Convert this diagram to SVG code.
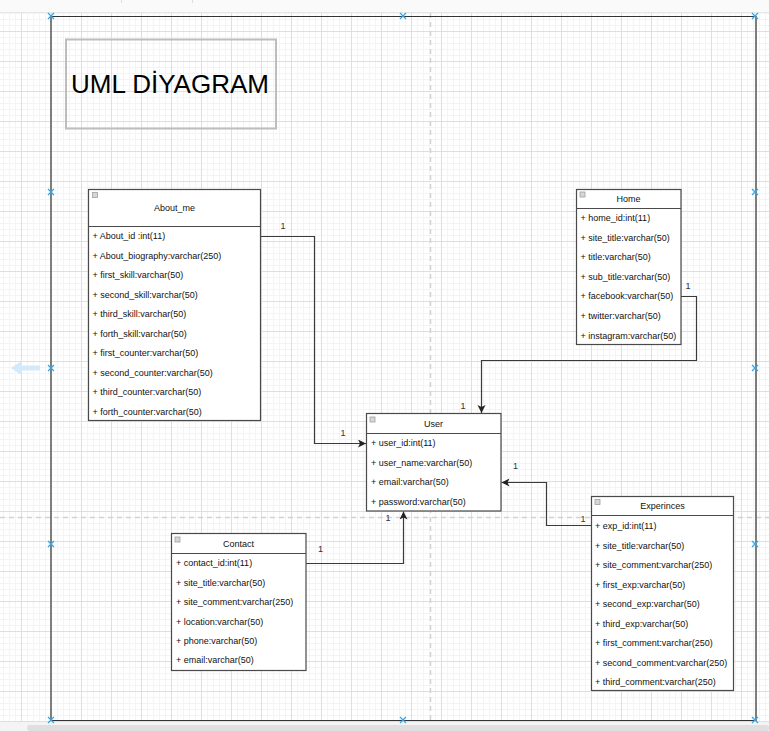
<svg xmlns="http://www.w3.org/2000/svg" width="769" height="731" viewBox="0 0 769 731">
<style>
.box{fill:#fff;stroke:#4a4a4a;stroke-width:1.2}
.div{stroke:#4a4a4a;stroke-width:1.2}
.t{font-family:"Liberation Sans",Arial,sans-serif;font-size:9px;fill:#111}
.tc{font-family:"Liberation Sans",Arial,sans-serif;font-size:9px;fill:#111;text-anchor:middle}
.ico{fill:#d6d6d6;stroke:#a0a0a0;stroke-width:0.8}
.conn{fill:none;stroke:#3a3a3a;stroke-width:1.2}
.lbl{font-family:"Liberation Sans",Arial,sans-serif;font-size:9px;fill:#333;text-anchor:middle}
.bx{stroke:#3aa6e8;stroke-width:1.3}
</style>
<defs>
<pattern id="minor" x="3" y="1" width="6" height="6" patternUnits="userSpaceOnUse">
<path d="M0 0.5H6M0.5 0V6" stroke="#f4f4f4" stroke-width="1" fill="none"/>
</pattern>
<pattern id="major" x="21" y="1" width="30" height="30" patternUnits="userSpaceOnUse">
<path d="M0 0.5H30M0.5 0V30" stroke="#dfdfdf" stroke-width="1" fill="none"/>
</pattern>
<marker id="arr" markerWidth="10" markerHeight="10" refX="8" refY="4" orient="auto" markerUnits="userSpaceOnUse">
<path d="M0,0 L8,4 L0,8 L2,4 z" fill="#222"/>
</marker>
<g id="xm"><path d="M-3,-3 L3,3 M-3,3 L3,-3" class="bx"/></g>
</defs>
<!-- background -->
<rect x="0" y="0" width="769" height="731" fill="#fff"/>
<rect x="0" y="12" width="769" height="711" fill="url(#minor)"/>
<rect x="0" y="12" width="769" height="711" fill="url(#major)"/>
<rect x="0" y="0" width="769" height="12" fill="#fafafa"/>
<line x1="0" y1="12.5" x2="769" y2="12.5" stroke="#e6e6e6"/>
<line x1="121.5" y1="0" x2="121.5" y2="3" stroke="#ddd"/>
<line x1="192.5" y1="0" x2="192.5" y2="3" stroke="#ddd"/>
<!-- page breaks -->
<line x1="430.5" y1="13" x2="430.5" y2="720" stroke="#d2d2d2" stroke-width="1.5" stroke-dasharray="5,4"/>
<line x1="0" y1="517.5" x2="769" y2="517.5" stroke="#d2d2d2" stroke-width="1.5" stroke-dasharray="5,4"/>
<!-- bottom scrollbar area -->
<rect x="0" y="722" width="769" height="9" fill="#f4f4f6"/>
<rect x="27" y="725" width="742" height="6" rx="3" fill="#dfdfe2"/>
<!-- frame -->
<g id="frame">
<line x1="51" y1="16.5" x2="756" y2="16.5" stroke="#333" stroke-width="1.2"/>
<line x1="51" y1="720.5" x2="756" y2="720.5" stroke="#333" stroke-width="1.2"/>
<line x1="51" y1="16" x2="51" y2="721" stroke="#7d7d7d" stroke-width="2"/>
<line x1="756" y1="16" x2="756" y2="721" stroke="#7d7d7d" stroke-width="2"/>
<use href="#xm" x="51" y="16"/><use href="#xm" x="403" y="16"/><use href="#xm" x="755" y="16"/>
<use href="#xm" x="51" y="192"/><use href="#xm" x="51" y="368"/><use href="#xm" x="51" y="544"/>
<use href="#xm" x="755" y="192"/><use href="#xm" x="755" y="368"/><use href="#xm" x="755" y="544"/>
<use href="#xm" x="51" y="720"/><use href="#xm" x="403" y="720"/><use href="#xm" x="755" y="720"/>
<path d="M11,368 L22,360.5 L22,365.5 L40,365.5 L40,370.5 L22,370.5 L22,375.5 z" fill="#d3eafa"/>
</g>
<!-- title -->
<g id="title">
<rect x="66" y="39.5" width="210" height="89" fill="none" stroke="#bdbdbd" stroke-width="2"/>
<text x="170" y="92.5" font-family="'Liberation Sans',Arial,sans-serif" font-size="26" fill="#000" text-anchor="middle">UML DİYAGRAM</text>
</g>
<!-- connectors -->
<g id="connectors">
<path class="conn" d="M261,236.5 H314.5 V443.5 H366" marker-end="url(#arr)"/>
<path class="conn" d="M681,296.5 H696.5 V360.5 H481.5 V413" marker-end="url(#arr)"/>
<path class="conn" d="M591,525.5 H546.5 V482.5 H501.5" marker-end="url(#arr)"/>
<path class="conn" d="M306,563.5 H403.5 V511.5" marker-end="url(#arr)"/>
<text class="lbl" x="283" y="229">1</text>
<text class="lbl" x="343" y="436">1</text>
<text class="lbl" x="688" y="288.5">1</text>
<text class="lbl" x="463" y="409">1</text>
<text class="lbl" x="583" y="522">1</text>
<text class="lbl" x="515.5" y="469">1</text>
<text class="lbl" x="320.5" y="552">1</text>
<text class="lbl" x="388" y="521">1</text>
</g>
<!-- About_me -->
<g id="about_me">
<rect class="box" x="88.5" y="189.5" width="172" height="231"/>
<line class="div" x1="88.5" y1="226.5" x2="260.5" y2="226.5"/>
<rect class="ico" x="92.5" y="192.5" width="5" height="5"/>
<text class="tc" x="174.5" y="211">About_me</text>
<text class="t" x="92.5" y="239.3">+ About_id :int(11)</text>
<text class="t" x="92.5" y="258.8">+ About_biography:varchar(250)</text>
<text class="t" x="92.5" y="278.3">+ first_skill:varchar(50)</text>
<text class="t" x="92.5" y="297.8">+ second_skill:varchar(50)</text>
<text class="t" x="92.5" y="317.3">+ third_skill:varchar(50)</text>
<text class="t" x="92.5" y="336.8">+ forth_skill:varchar(50)</text>
<text class="t" x="92.5" y="356.3">+ first_counter:varchar(50)</text>
<text class="t" x="92.5" y="375.8">+ second_counter:varchar(50)</text>
<text class="t" x="92.5" y="395.3">+ third_counter:varchar(50)</text>
<text class="t" x="92.5" y="414.8">+ forth_counter:varchar(50)</text>
</g>
<!-- Home -->
<g id="home">
<rect class="box" x="576.5" y="189.5" width="104.5" height="155"/>
<line class="div" x1="576.5" y1="208.5" x2="681" y2="208.5"/>
<rect class="ico" x="580" y="192" width="5" height="5"/>
<text class="tc" x="628.5" y="202">Home</text>
<text class="t" x="580.5" y="221">+ home_id:int(11)</text>
<text class="t" x="580.5" y="240.6">+ site_title:varchar(50)</text>
<text class="t" x="580.5" y="260.2">+ title:varchar(50)</text>
<text class="t" x="580.5" y="279.8">+ sub_title:varchar(50)</text>
<text class="t" x="580.5" y="299.4">+ facebook:varchar(50)</text>
<text class="t" x="580.5" y="319">+ twitter:varchar(50)</text>
<text class="t" x="580.5" y="338.6">+ instagram:varchar(50)</text>
</g>
<!-- User -->
<g id="user">
<rect class="box" x="366.5" y="413.5" width="134.5" height="97.5"/>
<line class="div" x1="366.5" y1="433.5" x2="501" y2="433.5"/>
<rect class="ico" x="370" y="417" width="5" height="5"/>
<text class="tc" x="433.5" y="427">User</text>
<text class="t" x="371" y="446.3">+ user_id:int(11)</text>
<text class="t" x="371" y="465.6">+ user_name:varchar(50)</text>
<text class="t" x="371" y="485">+ email:varchar(50)</text>
<text class="t" x="371" y="505">+ password:varchar(50)</text>
</g>
<!-- Experinces -->
<g id="experinces">
<rect class="box" x="591.5" y="496.5" width="142" height="194"/>
<line class="div" x1="591.5" y1="515.5" x2="733.5" y2="515.5"/>
<rect class="ico" x="595" y="499.5" width="5" height="5"/>
<text class="tc" x="662.5" y="509.3">Experinces</text>
<text class="t" x="595" y="529">+ exp_id:int(11)</text>
<text class="t" x="595" y="548.5">+ site_title:varchar(50)</text>
<text class="t" x="595" y="568">+ site_comment:varchar(250)</text>
<text class="t" x="595" y="587.5">+ first_exp:varchar(50)</text>
<text class="t" x="595" y="607">+ second_exp:varchar(50)</text>
<text class="t" x="595" y="626.5">+ third_exp:varchar(50)</text>
<text class="t" x="595" y="646">+ first_comment:varchar(250)</text>
<text class="t" x="595" y="665.5">+ second_comment:varchar(250)</text>
<text class="t" x="595" y="685">+ third_comment:varchar(250)</text>
</g>
<!-- Contact -->
<g id="contact">
<rect class="box" x="171.5" y="533.5" width="134.5" height="137"/>
<line class="div" x1="171.5" y1="553.5" x2="306" y2="553.5"/>
<rect class="ico" x="175" y="537" width="5" height="5"/>
<text class="tc" x="238.5" y="547">Contact</text>
<text class="t" x="176" y="566.3">+ contact_id:int(11)</text>
<text class="t" x="176" y="585.7">+ site_title:varchar(50)</text>
<text class="t" x="176" y="605.1">+ site_comment:varchar(250)</text>
<text class="t" x="176" y="624.5">+ location:varchar(50)</text>
<text class="t" x="176" y="643.9">+ phone:varchar(50)</text>
<text class="t" x="176" y="663.3">+ email:varchar(50)</text>
</g>
</svg>
